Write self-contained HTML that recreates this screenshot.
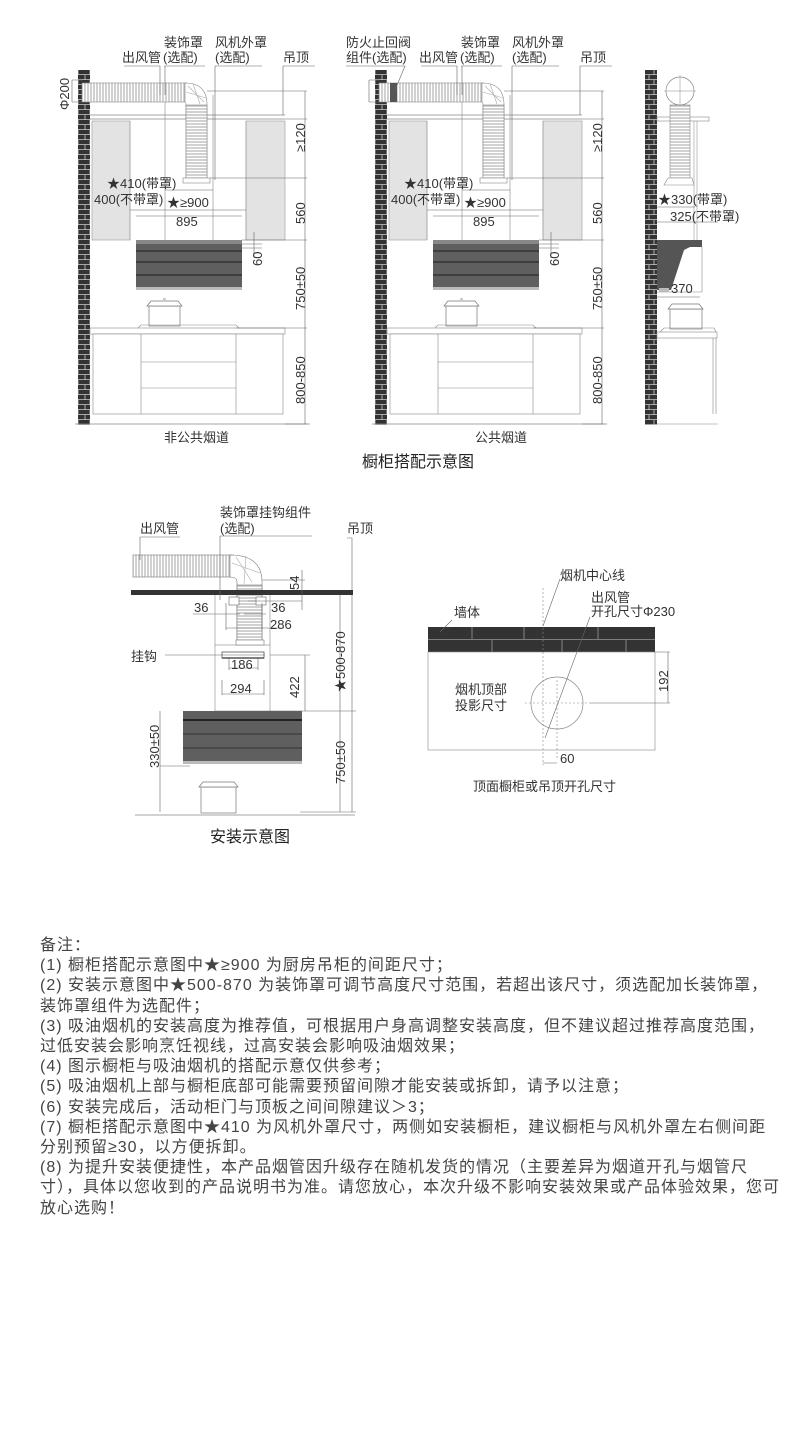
<!DOCTYPE html>
<html><head><meta charset="utf-8"><style>
body{margin:0;background:#fff;width:790px;height:1439px;overflow:hidden;font-family:"Liberation Sans","Noto Sans CJK SC",sans-serif;}
svg{position:absolute;left:0;top:0}
.notes{position:absolute;left:40px;top:936px;font-size:16px;letter-spacing:1px;line-height:20.2px;color:#444;white-space:nowrap;font-family:"Liberation Sans","Noto Sans CJK SC",sans-serif;}
</style></head><body>
<svg width="790" height="930" viewBox="0 0 790 930" font-family="Liberation Sans, Noto Sans CJK SC, sans-serif" fill="none">
<defs>
<pattern id="brick" width="12" height="10" patternUnits="userSpaceOnUse">
<rect width="12" height="10" fill="#333"/><path d="M0 9.5H12M6 0V5M0 4.5H12M1 5V10" stroke="#ccc" stroke-width="0.8"/>
</pattern>
<pattern id="rib" width="3" height="4" patternUnits="userSpaceOnUse"><rect width="3" height="4" fill="#fff"/><path d="M1 0V4" stroke="#999" stroke-width="0.9"/></pattern>
<pattern id="ribh" width="4" height="3" patternUnits="userSpaceOnUse"><rect width="4" height="3" fill="#fff"/><path d="M0 1H4" stroke="#999" stroke-width="0.9"/></pattern>
<g id="panel">
 <rect x="78" y="70" width="12" height="355" fill="url(#brick)"/>
 <path d="M90 115H285M90 119H285" stroke="#888" stroke-width="0.8"/>
 <rect x="92" y="121" width="38" height="119" fill="#e3e3e3" stroke="#999" stroke-width="0.6"/>
 <rect x="246" y="121" width="39" height="119" fill="#e3e3e3" stroke="#999" stroke-width="0.6"/>
 <path d="M130 121V240M246 121V240" stroke="#999" stroke-width="0.6"/>
 <path d="M165 95V240M213 95V240" stroke="#888" stroke-width="0.6"/>
 <rect x="82" y="83" width="105" height="19" fill="url(#rib)" stroke="#888" stroke-width="0.6"/>
 <path d="M185 83Q207 83 207 105V178H186V105Q186 102 185 102Z" fill="#fff" stroke="#888" stroke-width="0.6"/>
 <rect x="186" y="105" width="21" height="73" fill="url(#ribh)" stroke="#888" stroke-width="0.6"/>
 <path d="M186 92L206 98M188 86L204 102M193 84L200 104" stroke="#aaa" stroke-width="0.6"/>
 <rect x="183" y="178" width="27" height="5" fill="#fff" stroke="#888" stroke-width="0.6"/>
 <rect x="136" y="240" width="106" height="50" fill="#5f5f5f"/>
 <rect x="136" y="240" width="106" height="4" fill="#888"/>
 <path d="M136 251H242M136 262H242M136 275H242" stroke="#2a2a2a" stroke-width="1.2"/>
 <rect x="136" y="287" width="106" height="3" fill="#bbb"/>
 <rect x="149" y="306" width="31" height="20" fill="#fff" stroke="#777" stroke-width="0.7"/>
 <path d="M147 306L151 301H178L182 306Z M163 299h3" fill="#fff" stroke="#777" stroke-width="0.7"/>
 <path d="M138 328L141 325H236L239 328" stroke="#888" stroke-width="0.6"/>
 <rect x="90" y="328" width="195" height="6" fill="#fff" stroke="#888" stroke-width="0.6"/>
 <rect x="93" y="334" width="190" height="80" fill="#fff" stroke="#888" stroke-width="0.6"/>
 <path d="M141 334V414M236 334V414M141 362H236M141 388H236" stroke="#888" stroke-width="0.6"/>
 <path d="M75 424H310" stroke="#888" stroke-width="0.7"/>
 <g stroke="#666" stroke-width="0.6">
 <path d="M207 91H307M285 119H307M210 178H307M242 240H307M236 328H307M285 424H307"/>
 <path d="M305 91V424"/>
 <path d="M130 210H246M165 190H213M136 216H242M72 80V102M72 80H82M72 102H82"/>
 <path d="M254 232V258M242 244H262M242 248H262"/>
 </g>
 <g fill="#333" font-size="13">
 <text x="107" y="188">★410(带罩)</text>
 <text x="94" y="204">400(不带罩)</text>
 <text x="167" y="207">★≥900</text>
 <text x="176" y="226">895</text>
 </g>
 <g fill="#333" font-size="13">
 <text transform="translate(305,152) rotate(-90)">≥120</text>
 <text transform="translate(305,224) rotate(-90)">560</text>
 <text transform="translate(305,310) rotate(-90)">750±50</text>
 <text transform="translate(305,404) rotate(-90)">800-850</text>
 <text transform="translate(262,266) rotate(-90)">60</text>
 </g>
 <g fill="#333" font-size="13">
 <text x="164" y="47">装饰罩</text><text x="215" y="47">风机外罩</text>
 <text x="122" y="62">出风管</text><text x="163" y="62">(选配)</text><text x="215" y="62">(选配)</text>
 <text x="283" y="62">吊顶</text>
 </g>
 <g stroke="#666" stroke-width="0.6"><path d="M124 66H160V95M164 66H205M215 66H262M283 66H315M283 66V115M165 66V95M215 66V180"/></g>
</g>
</defs>

<use href="#panel"/>
<text x="69" y="110" transform="rotate(-90,69,110)" fill="#333" font-size="13">Φ200</text>
<g transform="translate(297,0)"><use href="#panel"/></g>
<rect x="390" y="83" width="7" height="19" fill="#555"/>
<g fill="#333" font-size="13"><text x="346" y="47">防火止回阀</text><text x="346" y="62">组件(选配)</text></g>
<path d="M346 66H405L395 90" stroke="#666" stroke-width="0.6"/>
<g fill="#333" font-size="13"><text x="164" y="442">非公共烟道</text><text x="475" y="442">公共烟道</text></g>
<text x="362" y="467" fill="#222" font-size="16">橱柜搭配示意图</text>

<rect x="645" y="70" width="12" height="355" fill="url(#brick)"/>
<circle cx="680" cy="91" r="14" fill="#fff" stroke="#888" stroke-width="0.7"/>
<path d="M680 75V107M664 91H696" stroke="#888" stroke-width="0.5"/>
<rect x="657" y="117" width="52" height="4" fill="#fff" stroke="#888" stroke-width="0.6"/>
<rect x="670" y="105" width="20" height="73" fill="url(#ribh)" stroke="#888" stroke-width="0.6"/>
<path d="M664 185L668 178H692L694 185Z" fill="#fff" stroke="#888" stroke-width="0.6"/>
<path d="M694 121V240M697 121V240" stroke="#999" stroke-width="0.6"/>
<path d="M657 240H702V247H690L684 250L671 290H657Z" fill="#555"/>
<path d="M702 247V292M657 292H702" stroke="#888" stroke-width="0.6"/>
<rect x="659" y="288" width="10" height="4" fill="#bbb"/>
<g stroke="#666" stroke-width="0.6"><path d="M657 207H695M657 222H718M657 297H700"/></g>
<g fill="#333" font-size="13"><text x="658" y="204">★330(带罩)</text><text x="670" y="221">325(不带罩)</text><text x="671" y="293">370</text></g>
<rect x="670" y="309" width="32" height="20" fill="#fff" stroke="#777" stroke-width="0.7"/>
<path d="M668 309L672 304H699L703 309Z" fill="#fff" stroke="#777" stroke-width="0.7"/>
<path d="M660 332L664 328H714L716 332" stroke="#888" stroke-width="0.6"/>
<rect x="657" y="332" width="60" height="6" fill="#fff" stroke="#888" stroke-width="0.6"/>
<path d="M713 338V414M716 338V414M657 424H718" stroke="#888" stroke-width="0.6"/>

<g stroke="#777" stroke-width="0.6">
<rect x="133" y="555" width="100" height="22" fill="url(#rib)"/>
<path d="M230 555Q262 555 262 582V645H237V582Q237 577 230 577Z" fill="#fff"/>
<rect x="237" y="585" width="25" height="60" fill="url(#ribh)"/>
<path d="M232 563L260 573M236 557L252 582M246 556L244 584" stroke="#aaa"/>
</g>
<rect x="131" y="590" width="222" height="5" fill="#333"/>
<rect x="215" y="645" width="55" height="66" fill="#fff" stroke="#888" stroke-width="0.6"/>
<path d="M215 595V645M270 595V645" stroke="#888" stroke-width="0.6"/>
<rect x="229" y="597" width="10" height="8" fill="#fff" stroke="#666" stroke-width="0.6"/>
<rect x="256" y="597" width="10" height="8" fill="#fff" stroke="#666" stroke-width="0.6"/>
<rect x="236" y="640" width="28" height="5" fill="#fff" stroke="#777" stroke-width="0.6"/>
<rect x="222" y="652" width="42" height="6" fill="#fff" stroke="#555" stroke-width="0.8"/>
<path d="M222 658H264" stroke="#555" stroke-width="1.5"/>
<rect x="183" y="711" width="119" height="52" fill="#5f5f5f"/>
<path d="M183 720H302" stroke="#222" stroke-width="2"/>
<path d="M183 734H302M183 748H302" stroke="#333" stroke-width="1"/>
<rect x="183" y="761" width="119" height="3" fill="#bbb"/>
<rect x="201" y="787" width="35" height="26" fill="#fff" stroke="#777" stroke-width="0.7"/>
<path d="M199 787L203 782H234L238 787Z" fill="#fff" stroke="#777" stroke-width="0.7"/>
<path d="M135 815H355" stroke="#888" stroke-width="0.7"/>
<g stroke="#666" stroke-width="0.6">
<path d="M140 537H180M140 537V560M220 536H312M220 536V600M347 538H352V590M352 595V812"/>
<path d="M262 580H305M302 570V610M248 601H302"/>
<path d="M193 614H240M218 614H240M244 614H266M226 603V630M262 603V630M226 628H284"/>
<path d="M165 655H265M270 655H310M305 655V711M270 711H356M340 595V812M300 812H356"/>
<path d="M229 657V670M258 657V670M229 668H258M222 680V695M264 680V695M222 694H264"/>
<path d="M160 711V812M160 766H190"/>
</g>
<g fill="#333" font-size="13">
<text x="140" y="533">出风管</text>
<text x="220" y="517">装饰罩挂钩组件</text><text x="220" y="533">(选配)</text>
<text x="347" y="533">吊顶</text>
<text x="194" y="612">36</text><text x="271" y="612">36</text><text x="270" y="629">286</text>
<text x="131" y="661">挂钩</text>
<text x="231" y="669">186</text><text x="230" y="693">294</text>
<text transform="translate(299,590) rotate(-90)">54</text>
<text transform="translate(299,698) rotate(-90)">422</text>
<text transform="translate(345,692) rotate(-90)">★500-870</text>
<text transform="translate(345,784) rotate(-90)">750±50</text>
<text transform="translate(159,768) rotate(-90)">330±50</text>
</g>
<text x="210" y="842" fill="#222" font-size="16">安装示意图</text>

<rect x="428" y="627" width="227" height="25" fill="#333"/>
<path d="M428 639.5H655M472 627V639M524 627V639M598 627V639M492 640V652M562 640V652M626 640V652" stroke="#999" stroke-width="0.8"/>
<rect x="428" y="652" width="227" height="98" fill="#fff" stroke="#888" stroke-width="0.6"/>
<circle cx="557" cy="703" r="26" fill="none" stroke="#888" stroke-width="0.7"/>
<g stroke="#888" stroke-width="0.6" stroke-dasharray="2 2">
<path d="M543 588V765M525 703H590M557 680V760"/>
</g>
<g stroke="#666" stroke-width="0.6">
<path d="M590 703H670M655 652H670M668 652V703M543 763H557M560 579L543 626M590 617L545 738M452 620L440 632"/>
</g>
<g fill="#333" font-size="13">
<text x="560" y="580">烟机中心线</text>
<text x="591" y="602">出风管</text><text x="591" y="616">开孔尺寸Φ230</text>
<text x="454" y="617">墙体</text>
<text x="455" y="694">烟机顶部</text><text x="455" y="710">投影尺寸</text>
<text x="560" y="763">60</text>
<text transform="translate(668,692) rotate(-90)">192</text>
<text x="473" y="791">顶面橱柜或吊顶开孔尺寸</text>
</g>
</svg>
<div class="notes">备注：<br>(1) 橱柜搭配示意图中★≥900 为厨房吊柜的间距尺寸；<br>(2) 安装示意图中★500-870 为装饰罩可调节高度尺寸范围，若超出该尺寸，须选配加长装饰罩，<br>装饰罩组件为选配件；<br>(3) 吸油烟机的安装高度为推荐值，可根据用户身高调整安装高度，但不建议超过推荐高度范围，<br>过低安装会影响烹饪视线，过高安装会影响吸油烟效果；<br>(4) 图示橱柜与吸油烟机的搭配示意仅供参考；<br>(5) 吸油烟机上部与橱柜底部可能需要预留间隙才能安装或拆卸，请予以注意；<br>(6) 安装完成后，活动柜门与顶板之间间隙建议＞3；<br>(7) 橱柜搭配示意图中★410 为风机外罩尺寸，两侧如安装橱柜，建议橱柜与风机外罩左右侧间距<br>分别预留≥30，以方便拆卸。<br>(8) 为提升安装便捷性，本产品烟管因升级存在随机发货的情况（主要差异为烟道开孔与烟管尺<br>寸），具体以您收到的产品说明书为准。请您放心，本次升级不影响安装效果或产品体验效果，您可<br>放心选购！</div>
</body></html>
